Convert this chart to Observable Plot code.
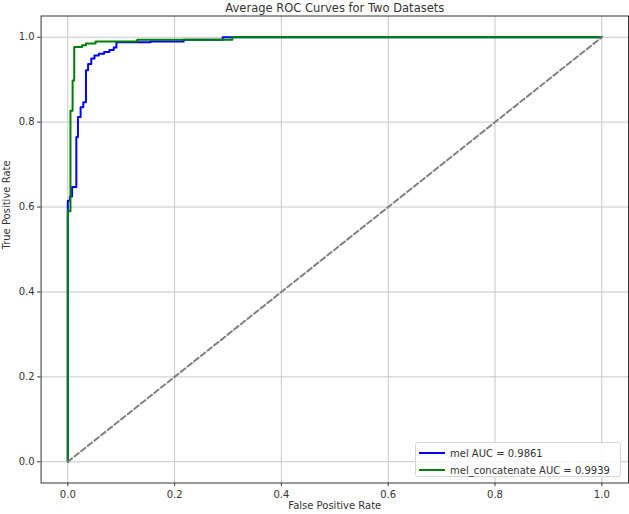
<!DOCTYPE html>
<html>
<head>
<meta charset="utf-8">
<script src="https://cdn.jsdelivr.net/npm/d3@7"></script>
<script src="https://cdn.jsdelivr.net/npm/@observablehq/plot@0.6"></script>
<style>
  body { margin: 0; background: #fff; }
  #wrap { position: relative; width: 629px; height: 514px; font-family: "DejaVu Sans", sans-serif; color: #333; }
  #legend { position: absolute; left: 415px; top: 442px; width: 206px; height: 35px; box-sizing: border-box;
            border: 1px solid #d6d6d6; border-radius: 3px; background: rgba(255,255,255,0.85); font-size: 10px; }
  .row { position: absolute; left: 3px; height: 14px; display: flex; align-items: center; white-space: nowrap; }
  .row svg { margin-right: 5px; }
</style>
</head>
<body>
<div id="wrap"></div>
<script>
const title = "Average ROC Curves for Two Datasets";
const xLabel = "False Positive Rate";
const yLabel = "True Positive Rate";
const ticks = [0, 0.2, 0.4, 0.6, 0.8, 1.0];

const seriesNames = ["mel AUC = 0.9861", "mel_concatenate AUC = 0.9939"];
const seriesColors = ["#0000ff", "#008000"];

const melFpr = [0, 0, 0.004, 0.008, 0.016, 0.019, 0.024, 0.029, 0.034, 0.038, 0.044, 0.050, 0.058, 0.068, 0.078, 0.086, 0.091, 0.155, 0.217, 0.290, 1];
const melTpr = [0, 0.615, 0.625, 0.647, 0.765, 0.812, 0.835, 0.847, 0.922, 0.937, 0.950, 0.957, 0.961, 0.965, 0.970, 0.976, 0.988, 0.990, 0.994, 1.0, 1.0];

const catFpr = [0, 0, 0.005, 0.009, 0.012, 0.027, 0.034, 0.052, 0.130, 0.308, 1];
const catTpr = [0, 0.59, 0.827, 0.898, 0.977, 0.981, 0.985, 0.990, 0.994, 1.0, 1.0];

const diagX = [0, 1];
const diagY = [0, 1];

const mel = melFpr.map((x, i) => ({x, y: melTpr[i]}));
const cat = catFpr.map((x, i) => ({x, y: catTpr[i]}));
const diag = diagX.map((x, i) => ({x, y: diagY[i]}));

const chart = Plot.plot({
  width: 629,
  height: 514,
  marginLeft: 40.6,
  marginRight: 1,
  marginTop: 15.5,
  marginBottom: 31.5,
  style: { fontFamily: "DejaVu Sans", fontSize: "10px", color: "#333", background: "transparent" },
  x: { domain: [-0.05, 1.05] },
  y: { domain: [-0.05, 1.05] },
  marks: [
    Plot.gridX(ticks, { stroke: "#c8c8c8", strokeOpacity: 1, strokeWidth: 1 }),
    Plot.gridY(ticks, { stroke: "#c8c8c8", strokeOpacity: 1, strokeWidth: 1 }),
    Plot.axisX(ticks, { tickFormat: d3.format(".1f"), tickSize: 3.5, tickPadding: 4, label: null, stroke: "#333", fill: "#333" }),
    Plot.axisY(ticks, { tickFormat: d3.format(".1f"), tickSize: 3.5, tickPadding: 3, label: null, stroke: "#333", fill: "#333" }),
    Plot.line(mel, { x: "x", y: "y", curve: "step-after", stroke: seriesColors[0], strokeWidth: 2 }),
    Plot.line(cat, { x: "x", y: "y", curve: "step-after", stroke: seriesColors[1], strokeWidth: 2 }),
    Plot.line(diag, { x: "x", y: "y", stroke: "#808080", strokeWidth: 2, strokeDasharray: "5.5,3" }),
    Plot.frame({ stroke: "#333", strokeWidth: 1 }),
    Plot.text([title], { frameAnchor: "top", lineAnchor: "middle", dy: -8, fontSize: 11.5, fill: "#333" }),
    Plot.text([xLabel], { frameAnchor: "bottom", lineAnchor: "middle", dy: 23, fontSize: 10, fill: "#333" }),
    Plot.text([yLabel], { frameAnchor: "left", dx: -34, rotate: -90, fontSize: 10, fill: "#333" })
  ]
});

const wrap = document.getElementById("wrap");
wrap.appendChild(chart);

const legend = document.createElement("div");
legend.id = "legend";
seriesNames.forEach((name, i) => {
  const row = document.createElement("div");
  row.className = "row";
  row.style.top = (3 + i * 17) + "px";
  row.innerHTML = `<svg width="26" height="4"><line x1="0" y1="2" x2="26" y2="2" stroke="${seriesColors[i]}" stroke-width="2"/></svg><span>${name}</span>`;
  legend.appendChild(row);
});
wrap.appendChild(legend);
</script>
</body>
</html>
